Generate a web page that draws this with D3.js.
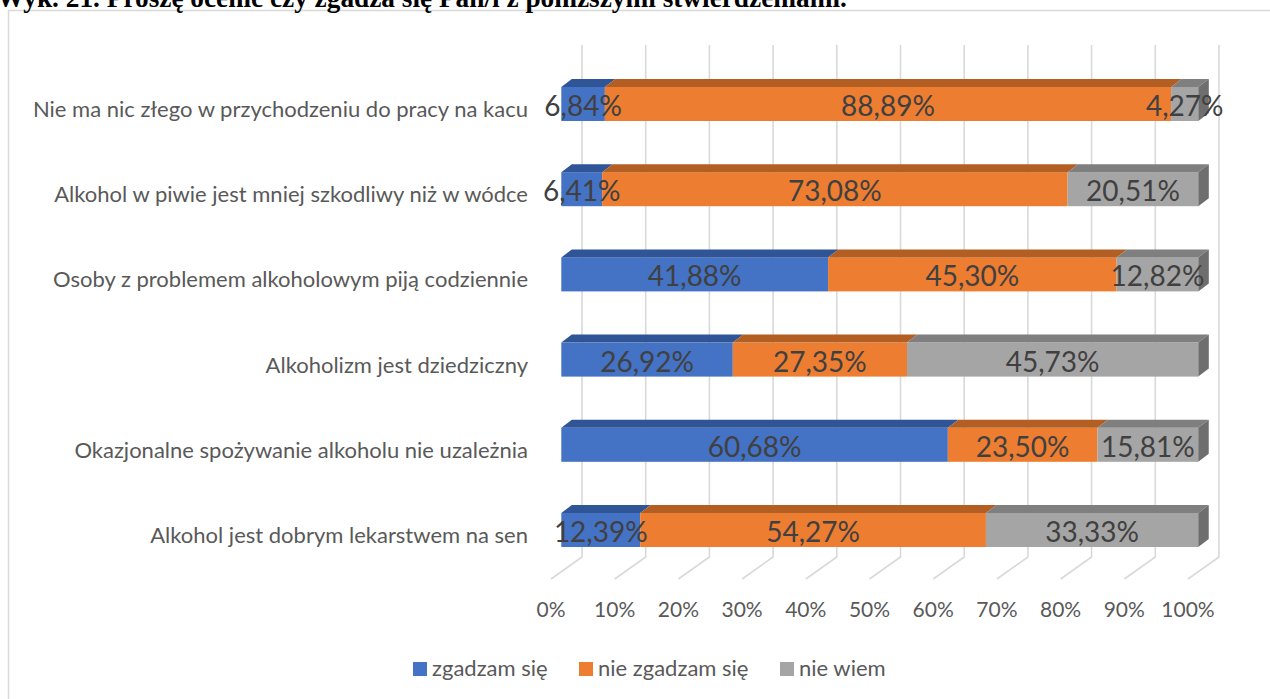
<!DOCTYPE html>
<html lang="pl">
<head>
  <meta charset="UTF-8" />
  <title>Wyk. 21</title>
  <script src="https://d3js.org/d3.v7.min.js"></script>
  <style>
    body { margin: 0; background: #fff; }
    svg { display: block; }
    .cat { font-family: Lato, "Open Sans", sans-serif; font-size: 22px; fill: #595959; }
    .tick-label { font-family: Lato, sans-serif; font-size: 21px; fill: #595959; }
    .val { font-family: Lato, sans-serif; font-size: 28px; fill: #404040; }
    .legend { font-family: Lato, sans-serif; font-size: 22px; fill: #595959; }
    .title { font-family: "Liberation Serif", serif; font-weight: bold; font-size: 27.3px; fill: #000; }
  </style>
</head>
<body>
  <svg id="chart" width="1270" height="699"></svg>

  <script>
    const categories = [
      'Nie ma nic złego w przychodzeniu do pracy na kacu',
      'Alkohol w piwie jest mniej szkodliwy niż w wódce',
      'Osoby z problemem alkoholowym piją codziennie',
      'Alkoholizm jest dziedziczny',
      'Okazjonalne spożywanie alkoholu nie uzależnia',
      'Alkohol jest dobrym lekarstwem na sen'
    ];
    const seriesNames = ['zgadzam się', 'nie zgadzam się', 'nie wiem'];
    const zgadzam = [6.84, 6.41, 41.88, 26.92, 60.68, 12.39];
    const nieZgadzam = [88.89, 73.08, 45.30, 27.35, 23.50, 54.27];
    const nieWiem = [4.27, 20.51, 12.82, 45.73, 15.81, 33.33];
    const ticks = [0, 10, 20, 30, 40, 50, 60, 70, 80, 90, 100];

    const frontCol = ['#4472C4', '#ED7D31', '#A5A5A5'];
    const topCol = ['#2F5597', '#B35E23', '#7F7F7F'];
    const sideCol = '#6E6E6E';

    const svg = d3.select('#chart');

    // frame + cut off title
    svg.append('rect')
      .attr('x', 8.5).attr('y', 10.5)
      .attr('width', 1400).attr('height', 900)
      .attr('fill', 'none').attr('stroke', '#D9D9D9').attr('stroke-width', 1.5);

    svg.append('text')
      .attr('class', 'title')
      .attr('x', -3).attr('y', 7)
      .text('Wyk. 21. Proszę ocenić czy zgadza się Pan/i z poniższymi stwierdzeniami.');

    // floor front edge scale; depth offsets for the 3d look
    const x = d3.scaleLinear().domain([0, 100]).range([551, 1188]);
    const wallDx = 31, wallDy = 22;
    const barDx = 10.5, barDy = 8;
    const barOff = 10.3; // bar front sits a bit behind the floor front
    const floorY = 557, gridTop = 45;

    const y = d3.scalePoint().domain(categories).range([87, 513]);
    const barH = 34;

    // gridlines on back wall + floor
    const grid = svg.append('g').attr('stroke', '#D9D9D9').attr('stroke-width', 1.6).attr('fill', 'none');
    ticks.forEach(t => {
      grid.append('path')
        .attr('d', `M${x(t) + wallDx},${gridTop}V${floorY}L${x(t)},${floorY + wallDy}`);
    });

    ticks.forEach(t => {
      svg.append('text')
        .attr('class', 'tick-label')
        .attr('x', x(t))
        .attr('y', 617)
        .attr('text-anchor', 'middle')
        .text(t + '%');
    });

    // stacked bars
    const rows = categories.map((c, i) => {
      const vals = [zgadzam[i], nieZgadzam[i], nieWiem[i]];
      let acc = 0;
      return vals.map((v, s) => {
        const seg = { cat: c, s, v, x0: acc, x1: acc + v };
        acc += v;
        return seg;
      });
    });

    rows.forEach(segs => {
      const g = svg.append('g');
      const y0 = y(segs[0].cat);
      segs.forEach(d => {
        const xa = x(d.x0) + barOff, xb = x(d.x1) + barOff;
        g.append('rect')
          .attr('x', xa).attr('y', y0)
          .attr('width', xb - xa).attr('height', barH)
          .attr('fill', frontCol[d.s]);
        g.append('path')
          .attr('d', `M${xa},${y0}L${xa + barDx},${y0 - barDy}L${xb + barDx},${y0 - barDy}L${xb},${y0}Z`)
          .attr('fill', topCol[d.s]);
      });
      const last = segs[segs.length - 1];
      const xe = x(last.x1) + barOff;
      g.append('path')
        .attr('d', `M${xe},${y0}L${xe + barDx},${y0 - barDy}L${xe + barDx},${y0 + barH - barDy}L${xe},${y0 + barH}Z`)
        .attr('fill', sideCol);
      segs.forEach(d => {
        g.append('text')
          .attr('class', 'val')
          .attr('x', (x(d.x0) + x(d.x1)) / 2 + barOff)
          .attr('y', y0 + barH / 2 + 12)
          .attr('text-anchor', 'middle')
          .text(d3.format('.2f')(d.v).replace('.', ',') + '%');
      });
    });

    // category labels
    categories.forEach(c => {
      svg.append('text')
        .attr('class', 'cat')
        .attr('x', 528)
        .attr('y', y(c) + 30)
        .attr('text-anchor', 'end')
        .text(c);
    });

    // legend
    const legendX = [413, 579, 780];
    seriesNames.forEach((n, i) => {
      svg.append('rect')
        .attr('x', legendX[i]).attr('y', 662)
        .attr('width', 14).attr('height', 14)
        .attr('fill', frontCol[i]);
      svg.append('text')
        .attr('class', 'legend')
        .attr('x', legendX[i] + 19).attr('y', 676)
        .text(n);
    });
  </script>
</body>
</html>
